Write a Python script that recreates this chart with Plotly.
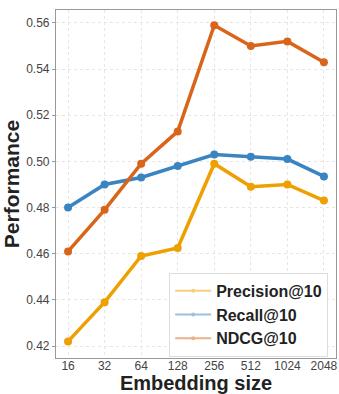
import plotly.graph_objects as go

sizes = ["16", "32", "64", "128", "256", "512", "1024", "2048"]
precision = [0.422, 0.439, 0.459, 0.4625, 0.499, 0.489, 0.490, 0.483]
recall = [0.480, 0.490, 0.493, 0.498, 0.503, 0.502, 0.501, 0.4935]
ndcg = [0.461, 0.479, 0.499, 0.513, 0.559, 0.550, 0.552, 0.543]
y_ticks = [0.42, 0.44, 0.46, 0.48, 0.50, 0.52, 0.54, 0.56]

series = [
    ("Precision@10", precision, "#EEA000"),
    ("Recall@10", recall, "#3A84C1"),
    ("NDCG@10", ndcg, "#D9651B"),
]

FONT = "Liberation Sans, Arial, sans-serif"
fig = go.Figure()
for name, vals, col in series:
    fig.add_trace(go.Scatter(
        x=sizes, y=vals, mode="lines+markers", name=name, showlegend=False,
        line=dict(color=col, width=3.5), marker=dict(color=col, size=8),
    ))
for name, vals, col in series:
    fig.add_trace(go.Scatter(
        x=[None], y=[None], mode="lines+markers", name=name, opacity=0.5,
        line=dict(color=col, width=2), marker=dict(color=col, size=4),
    ))

fig.update_layout(
    width=339, height=394,
    margin=dict(l=56, r=1, t=10, b=36),
    paper_bgcolor="white", plot_bgcolor="white",
    font=dict(family=FONT, color="#333333"),
    showlegend=True,
    legend=dict(
        x=0.972, y=0.245, xanchor="right", yanchor="top",
        bgcolor="white", bordercolor="#dddddd", borderwidth=1,
        font=dict(family=FONT, size=16, color="#222222", weight="bold"),
        itemwidth=36,
    ),
)
fig.update_xaxes(
    type="category", range=[-0.33, 7.33],
    showgrid=True, gridcolor="#e6e6e6", griddash="dot", gridwidth=1,
    showline=True, linecolor="#999999", linewidth=1.2, mirror=True,
    ticks="", ticklabelstandoff=-4, tickfont=dict(size=12, color="#444444"),
    title=dict(text="Embedding size", font=dict(size=20, color="#222222", weight="bold"), standoff=0),
)
fig.update_yaxes(
    range=[0.4148, 0.5656], tickvals=y_ticks, ticktext=[f"{v:.2f}" for v in y_ticks],
    showgrid=True, gridcolor="#e6e6e6", griddash="dot", gridwidth=1,
    zeroline=False,
    showline=True, linecolor="#999999", linewidth=1.2, mirror=True,
    ticks="outside", ticklen=3, tickcolor="#999999",
    tickfont=dict(size=12, color="#444444"),
    title=dict(text="Performance", font=dict(size=21, color="#222222", weight="bold"), standoff=3),
)
fig.write_html("out.html")
